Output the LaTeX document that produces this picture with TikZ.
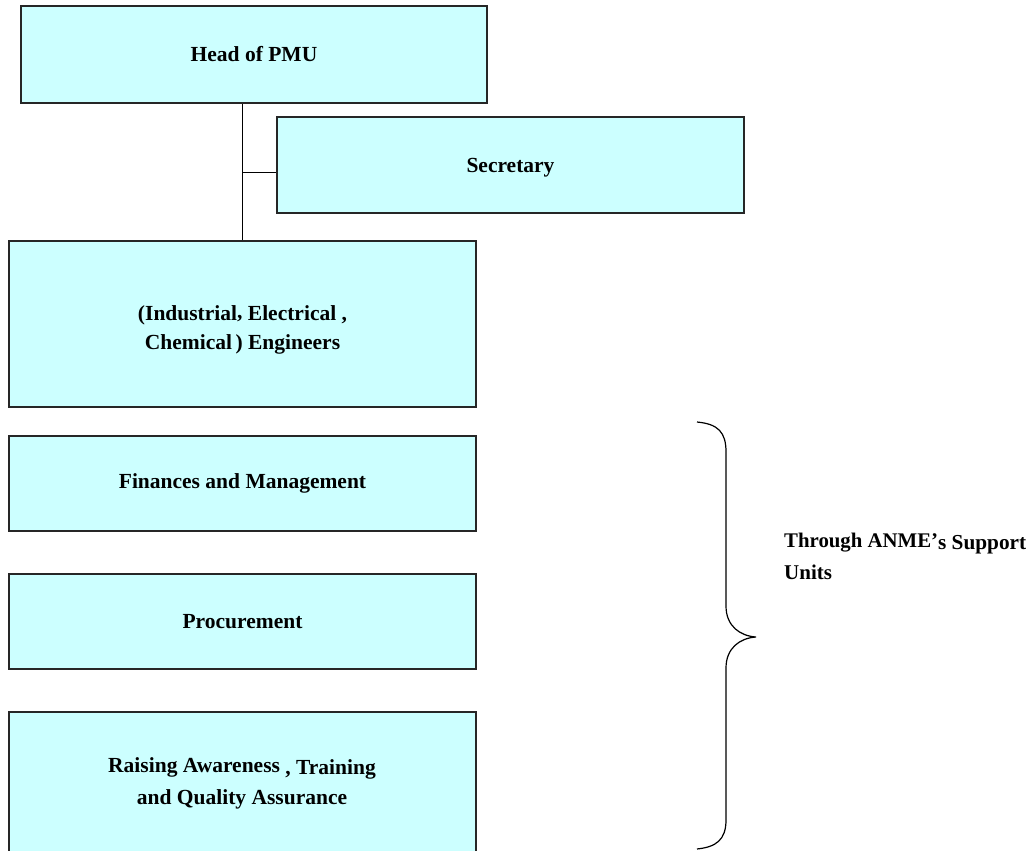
\documentclass[tikz,border=0pt]{standalone}
\usepackage{fontspec}
\setmainfont{Liberation Serif}
\begin{document}
\begin{tikzpicture}[x=1pt,y=-1pt,
  unit/.style={draw=black!85, line width=1.2pt, fill=boxcyan, rectangle,
    inner sep=0pt, align=center, font=\fontsize{21.5}{30}\selectfont\bfseries},
  caption/.style={font=\fontsize{21.5}{30}\selectfont\bfseries, align=center, inner sep=0pt},
  link/.style={draw=black, line width=1pt},
  note/.style={font=\fontsize{21}{32}\selectfont\bfseries, align=left, inner sep=0pt}]
\definecolor{boxcyan}{HTML}{CCFFFF}
\useasboundingbox (0,0) rectangle (1034,851);

% boxes of the unit
\node[unit, minimum width=466, minimum height=97] (head) at (254,54.5) {Head of PMU};
\node[unit, minimum width=467, minimum height=96] (sec) at (510.5,165) {};
\node[caption] (sectxt) at ([yshift=-2.5]sec.center) {Secretary};
\node[unit, minimum width=467, minimum height=166] (eng) at (242.5,324) {};
\node[caption, font=\fontsize{21.5}{29}\selectfont\bfseries] (engtxt) at ([yshift=-5.5]eng.center)
  {(Industrial\raisebox{1.5pt}{,} Electrical ,\\Chemical\,) Engineers};
\node[unit, minimum width=467, minimum height=95] (fin) at (242.5,483.5) {Finances and Management};
\node[unit, minimum width=467, minimum height=95] (proc) at (242.5,621.5) {Procurement};
\node[unit, minimum width=467, minimum height=170] (rais) at (242.5,797) {};
\node[caption, font=\fontsize{21.5}{32}\selectfont\bfseries] (raistxt) at (242,783)
  {Raising Awareness \raisebox{-2pt}{, Training}\\and Quality Assurance};

% reporting lines
\draw[link] (eng.north) -- (eng.north |- head.south);
\coordinate (j) at (242,172);
\draw[link] (j) -- (j -| sec.west);

% brace grouping the support units
\coordinate (bt) at (697,422);
\coordinate (tip) at (756,637);
\coordinate (bb) at (697,849);
\draw[line width=1.2pt] (bt) .. controls (718,424) and (726,432) .. (726,452)
  -- (726,606) .. controls (726,626) and (740,636) .. (tip)
  .. controls (740,638) and (726,648) .. (726,668)
  -- (726,820) .. controls (726,840) and (716,847) .. (bb);

\node[note, anchor=north west] (thr) at (784,533)
  {\fontsize{20.8}{32}\selectfont Through ANME'\raisebox{-2pt}{\fontsize{21.3}{32}\selectfont s Support}\\Units};
\end{tikzpicture}
\end{document}
